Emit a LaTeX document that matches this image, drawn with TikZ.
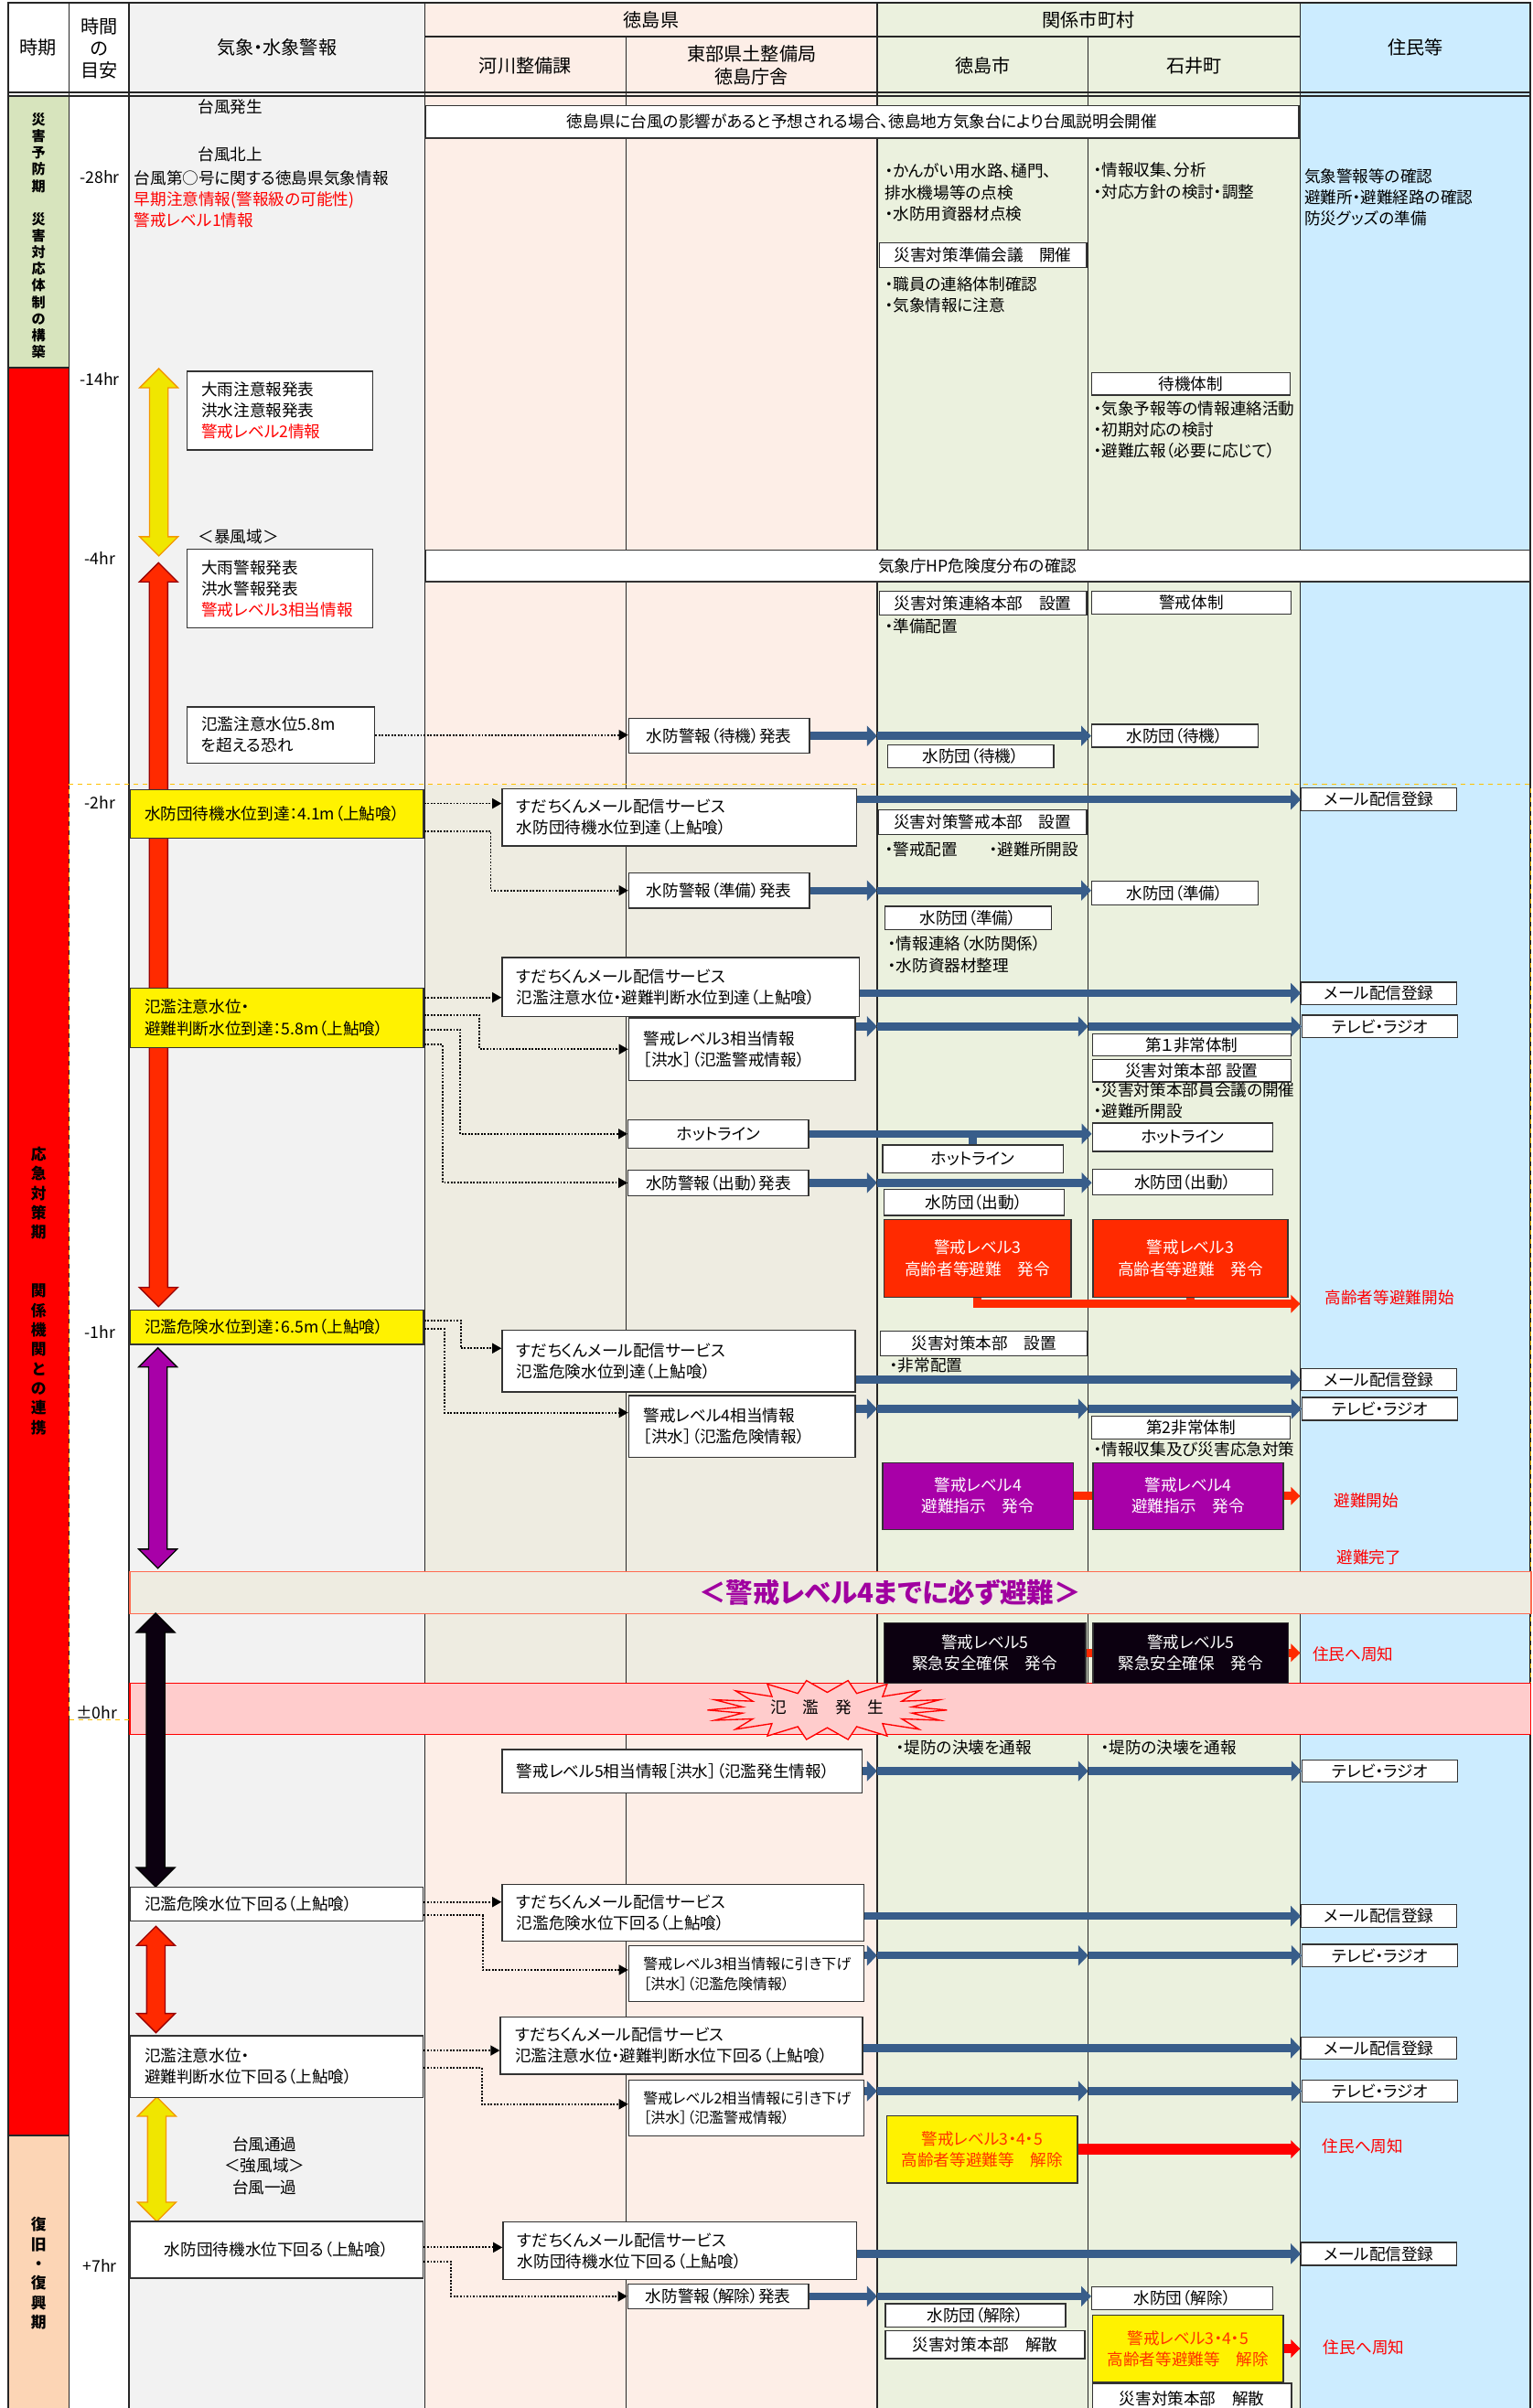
\documentclass[tikz,border=0pt]{standalone}
\usepackage{fontspec}
\setmainfont{Noto Sans CJK JP}[RawFeature={+palt}]
\usetikzlibrary{positioning,arrows.meta}
\setlength{\parindent}{0pt}

\definecolor{grayc}{HTML}{F2F2F2}
\definecolor{pinkc}{HTML}{FDEEE7}
\definecolor{beigec}{HTML}{EEECE1}
\definecolor{greenc}{HTML}{EBF1DE}
\definecolor{bluec}{HTML}{CCECFF}
\definecolor{prevc}{HTML}{D7E4BD}
\definecolor{recc}{HTML}{FCD5B5}
\definecolor{arrowblue}{HTML}{385D8A}
\definecolor{lvred}{HTML}{FF2A00}
\definecolor{lvpur}{HTML}{A800A8}
\definecolor{lvblk}{HTML}{0C0010}
\definecolor{arryel}{HTML}{F0E600}
\definecolor{arrorg}{HTML}{F39800}
\definecolor{floodpink}{HTML}{FFCCCC}
\definecolor{bandedge}{HTML}{FF6A50}
\definecolor{dashorg}{HTML}{FFC000}
\definecolor{kaijored}{HTML}{FF3300}
\definecolor{bandpur}{HTML}{A000A0}

\newcommand{\dblarrow}[5]{%
  \filldraw[fill=#4,draw=#5,line width=.8pt] (#1,#2) -- (#1+12.5,#2+12.5) -- (#1+6,#2+12.5) -- (#1+6,#3-12.5) -- (#1+12.5,#3-12.5) -- (#1,#3) -- (#1-12.5,#3-12.5) -- (#1-6,#3-12.5) -- (#1-6,#2+12.5) -- (#1-12.5,#2+12.5) -- cycle;}

\begin{document}
\begin{tikzpicture}[x=1pt,y=-1pt,
  every node/.style={font=\fontsize{10.5}{13.8}\selectfont},
  grid/.style={line width=.9pt, draw=black!85},
  wbox/.style 2 args={draw=black!80, fill=white, line width=.8pt, inner sep=0pt, anchor=north west, align=center, minimum width=#1pt, minimum height=#2pt},
  lbox/.style 2 args={wbox={10}{#2}, align=left, inner xsep=9.5pt, text width=#1},
  ltext/.style={inner sep=0pt, anchor=west, align=left},
  hdr/.style={font=\fontsize{12}{14.5}\selectfont, align=center},
  period/.style={font=\bfseries\fontsize{10}{12.7}\selectfont, align=center, inner sep=0pt},
  flow/.style={line width=5pt, draw=arrowblue, -{Triangle[length=6.5pt,width=13pt]}},
  dots/.style={densely dotted, line width=1.1pt, -{Triangle[length=6pt,width=6.5pt]}},
  redflow/.style={line width=5.5pt, draw=lvred, -{Triangle[length=6pt,width=11.5pt]}},
  redbar/.style={line width=5.5pt, draw=lvred},
  small/.style={font=\fontsize{9.5}{13}\selectfont}]

\useasboundingbox (0,0) rectangle (997.5,1568);

% backgrounds
\fill[grayc] (84,2) rectangle (276.5,1568);
\fill[pinkc] (276.5,2) rectangle (571,510.8);
\fill[beigec] (276.5,510.8) rectangle (571,1096);
\fill[pinkc] (276.5,1096) rectangle (571,1568);
\fill[greenc] (571,2) rectangle (846.5,1568);
\fill[bluec] (846.5,2) rectangle (996.5,1568);
\fill[prevc] (5.5,62.5) rectangle (45,239.3);
\fill[red] (5.5,239.3) rectangle (45,1390.5);
\fill[recc] (5.5,1390.5) rectangle (45,1568);

\coordinate (c5) at (571,0);
\coordinate (c6) at (708.5,0);
\coordinate (c7) at (846.5,0);

% table lines
\foreach \x in {45,84,276.5,571,846.5} \draw[grid] (\x,2) -- (\x,1568);
\foreach \x in {407.5,708.5} \draw[grid] (\x,23.8) -- (\x,1568);
\draw[grid] (276.5,23.8) -- (846.5,23.8);
\draw[grid] (5.5,60.1) -- (996.5,60.1);
\draw[grid] (5.5,62.5) -- (996.5,62.5);
\draw[grid] (5.5,239.3) -- (45,239.3);
\draw[grid] (5.5,1390.5) -- (45,1390.5);
\draw[line width=1.2pt, black!85] (5.5,2) rectangle (996.5,1572);
\draw[dashorg, dashed, line width=.8pt] (84,1120) -- (45,1120) -- (45,510.8) -- (996.5,510.8) -- (996.5,1120);

% header
\node[hdr] (hJiki) at (25,31) {時期};
\node[hdr] (hJikan) at (64.5,31.5) {時間\\の\\目安};
\node[hdr] (hKisho) at (180.3,31) {気象・水象警報};
\node[hdr] (hKen) at (424,13) {徳島県};
\node[hdr] (hKasen) at (342,43) {河川整備課};
\node[hdr] (hTobu) at (489.4,42.5) {東部県土整備局\\徳島庁舎};
\node[hdr] (hKankei) at (708.7,13) {関係市町村};
\node[hdr] (hToku) at (640,43) {徳島市};
\node[hdr] (hIshii) at (777.5,43) {石井町};
\node[hdr] (hJumin) at (921.5,31) {住民等};

% periods
\node[period, font=\bfseries\fontsize{9}{10.8}\selectfont] (pPrev) at (25.1,153.5) {災\\害\\予\\防\\期\\[10.8pt]災\\害\\対\\応\\体\\制\\の\\構\\築};
\node[period] (pEmg) at (25.1,840.6) {応\\急\\対\\策\\期\\[25.4pt]関\\係\\機\\関\\と\\の\\連\\携};
\node[period] (pRec) at (25.1,1480.4) {復\\旧\\・\\復\\興\\期};

% time marks
\node (t28) at (65,115.3) {-28hr};
\node (t14) at (65,246.8) {-14hr};
\node (t4) at (65,363.4) {-4hr};
\node (t2) at (65,522.8) {-2hr};
\node (t1) at (65,867.5) {-1hr};
\node (t0) at (63,1114.9) {±0hr};
\node (t7) at (65,1475.2) {+7hr};

% bands
\node[wbox={568.7}{21.3}] (setsumei) at (276.5,68.2) {徳島県に台風の影響があると予想される場合、徳島地方気象台により台風説明会開催};
\node[wbox={719}{20.5}] (hp) at (276.5,357.9) {気象庁HP危険度分布の確認};
\node[draw=bandedge, fill=beigec, line width=.8pt, minimum width=912.3pt, minimum height=27.6pt, anchor=north west, inner sep=0pt] (l4band) at (84.2,1022.9) {};
\node[font=\bfseries\fontsize{17.5}{20}\selectfont, text=bandpur] (l4txt) at (579.4,1036.7) {＜警戒レベル4までに必ず避難＞};
\node[draw=red, fill=floodpink, line width=.8pt, minimum width=911.8pt, minimum height=33.3pt, anchor=north west, inner sep=0pt] (flood) at (84.2,1095.6) {};
\filldraw[fill=floodpink, draw=red, line width=.8pt] plot[domain=0:360, samples=37] ({538.6+(78-22*mod(round(\x/10),2))*cos(\x)}, {1113.5+(19.5-8*mod(round(\x/10),2))*sin(\x)}) -- cycle;
\node (burst) at (538.6,1112) {氾　濫　発　生};

% block arrows
\dblarrow{103.4}{240}{362}{arryel}{arrorg}
\dblarrow{103.2}{366.4}{850.8}{lvred}{red!60!black}
\dblarrow{102.8}{877.6}{1021.2}{lvpur}{black}
\dblarrow{101.3}{1050.5}{1228.6}{lvblk}{black}
\dblarrow{101.5}{1254.3}{1323.6}{lvred}{red!60!black}
\dblarrow{102.1}{1365.5}{1446.5}{arryel}{arrorg}

% 気象・水象警報
\node (kHassei) at (150,69.7) {台風発生};
\node (kHokujo) at (150,100.7) {台風北上};
\node[ltext] (kInfo) at (87.2,129.5) {台風第○号に関する徳島県気象情報\\\textcolor{red}{早期注意情報(警報級の可能性)}\\\textcolor{red}{警戒レベル1情報}};
\node[lbox={101.9pt}{51.2}] (chuiho) at (121.2,241.3) {大雨注意報発表\\洪水注意報発表\\\textcolor{red}{警戒レベル2情報}};
\node (bofu) at (155.3,349.6) {＜暴風域＞};
\node[lbox={101.9pt}{51.4}] (keiho) at (121.2,357.1) {大雨警報発表\\洪水警報発表\\\textcolor{red}{警戒レベル3相当情報}};
\node[lbox={103.3pt}{36.6}] (koeru) at (121.2,459.9) {氾濫注意水位5.8m\\を超える恐れ};
\node[lbox={172.2pt}{31.6}, fill=yellow] (wy1) at (84.2,513.8) {水防団待機水位到達：4.1m（上鮎喰）};
\node[lbox={172.2pt}{38.6}, fill=yellow] (wy2) at (84.2,643.1) {氾濫注意水位・\\避難判断水位到達：5.8m（上鮎喰）};
\node[lbox={172.2pt}{22.6}, fill=yellow] (wy3) at (84.2,852.5) {氾濫危険水位到達：6.5m（上鮎喰）};
\node[lbox={172pt}{22}] (wd1) at (84.2,1228.6) {氾濫危険水位下回る（上鮎喰）};
\node[lbox={172pt}{40}] (wd2) at (84.2,1325.3) {氾濫注意水位・\\避難判断水位下回る（上鮎喰）};
\node[align=center] (tsuka) at (172.3,1410.3) {台風通過\\＜強風域＞\\台風一過};
\node[wbox={191}{37}] (wd3) at (84.2,1446) {水防団待機水位下回る（上鮎喰）};

% 河川整備課・東部県土整備局
\node[wbox={117.6}{22.8}] (wk1) at (409,467.4) {水防警報（待機）発表};
\node[lbox={211.8pt}{37.1}] (su1) at (326.5,513.3) {すだちくんメール配信サービス\\水防団待機水位到達（上鮎喰）};
\node[wbox={117.6}{23.1}] (wk2) at (409,567.9) {水防警報（準備）発表};
\node[lbox={213.5pt}{38.6}] (su2) at (326.5,623) {すだちくんメール配信サービス\\氾濫注意水位・避難判断水位到達（上鮎喰）};
\node[lbox={128.4pt}{40.8}] (lv3) at (409,662.4) {警戒レベル3相当情報\\［洪水］（氾濫警戒情報）};
\node[wbox={117.4}{18.3}] (hot1) at (408.6,728.8) {ホットライン};
\node[wbox={117.4}{16.8}] (wk3) at (408.6,761.4) {水防警報（出動）発表};
\node[lbox={210.9pt}{40.1}] (su3) at (326.5,865.8) {すだちくんメール配信サービス\\氾濫危険水位到達（上鮎喰）};
\node[lbox={128.4pt}{40.1}] (lv4) at (409,908.4) {警戒レベル4相当情報\\［洪水］（氾濫危険情報）};
\node[lbox={215.5pt}{28.1}] (lv5) at (326.5,1138.9) {警戒レベル5相当情報［洪水］（氾濫発生情報）};
\node[lbox={216.7pt}{36.8}] (su4) at (326.5,1226.8) {すだちくんメール配信サービス\\氾濫危険水位下回る（上鮎喰）};
\node[lbox={134.2pt}{36.4}, small] (lv3d) at (409,1266.6) {警戒レベル3相当情報に引き下げ\\［洪水］（氾濫危険情報）};
\node[lbox={216.7pt}{37.3}] (su5) at (325.4,1313) {すだちくんメール配信サービス\\氾濫注意水位・避難判断水位下回る（上鮎喰）};
\node[lbox={134.2pt}{36.5}, small] (lv2d) at (409,1354) {警戒レベル2相当情報に引き下げ\\［洪水］（氾濫警戒情報）};
\node[lbox={211.2pt}{37.5}] (su6) at (327.1,1446.5) {すだちくんメール配信サービス\\水防団待機水位下回る（上鮎喰）};
\node[wbox={117.6}{16.3}] (wk4) at (408.4,1486.7) {水防警報（解除）発表};

% 徳島市
\node[ltext] (tPrep) at (576,125.3) {・かんがい用水路、樋門、\\排水機場等の点検\\・水防用資器材点検};
\node[wbox={134.9}{15.8}] (tJunbi) at (572.1,157.9) {災害対策準備会議　開催};
\node[ltext] (tStaff) at (576,191.9) {・職員の連絡体制確認\\・気象情報に注意};
\node[wbox={135}{15.3}] (tRenraku) at (572,384.7) {災害対策連絡本部　設置};
\node[ltext] (tJh) at (576,408) {・準備配置};
\node[wbox={108}{15}] (tTaiki) at (577.7,484.5) {水防団（待機）};
\node[wbox={135.3}{15.9}] (tKeikai) at (571.7,527) {災害対策警戒本部　設置};
\node[ltext] (tKh) at (576,553.4) {・警戒配置　　・避難所開設};
\node[wbox={108.6}{15.1}] (tJun) at (575.6,589.7) {水防団（準備）};
\node[ltext] (tJr) at (578,621.5) {・情報連絡（水防関係）\\・水防資器材整理};
\node[wbox={117.4}{18.3}] (tHot) at (574.3,745.1) {ホットライン};
\node[wbox={117.3}{17.2}] (tShu) at (575,773.9) {水防団（出動）};
\node[wbox={122}{50.6}, fill=lvred, text=white] (tL3) at (575,793.6) {警戒レベル3\\高齢者等避難　発令};
\node[wbox={134.8}{16.3}] (tHonbu) at (572.8,866.3) {災害対策本部　設置};
\node[ltext] (tHijo) at (579.2,889.3) {・非常配置};
\node[wbox={124.2}{43.4}, fill=lvpur, text=white] (tL4) at (574.3,952) {警戒レベル4\\避難指示　発令};
\node[wbox={131.5}{39.4}, fill=lvblk, text=white] (tL5) at (575,1056.2) {警戒レベル5\\緊急安全確保　発令};
\node[ltext] (tTeibo) at (583.4,1138.2) {・堤防の決壊を通報};
\node[wbox={124.2}{43.7}, fill=yellow, text=kaijored] (tKj) at (577,1377.3) {警戒レベル3・4・5\\高齢者等避難等　解除};
\node[wbox={117.4}{15}] (tKaijo) at (576,1499.7) {水防団（解除）};
\node[wbox={129.9}{18.3}] (tKaisan) at (576,1517.2) {災害対策本部　解散};

% 石井町
\node[ltext] (iInfo) at (711.9,117.8) {・情報収集、分析\\・対応方針の検討・調整};
\node[wbox={129.1}{14.6}] (iTaikiT) at (710.4,242.3) {待機体制};
\node[ltext] (iAct) at (711.9,280) {・気象予報等の情報連絡活動\\・初期対応の検討\\・避難広報（必要に応じて）};
\node[wbox={129.7}{14.6}] (iKeikai) at (710.4,384.7) {警戒体制};
\node[wbox={108.2}{15}] (iTaiki) at (710.4,471.2) {水防団（待機）};
\node[wbox={108.2}{15.6}] (iJun) at (710.4,573.4) {水防団（準備）};
\node[wbox={129.3}{14.1}] (iHijo1) at (710.8,672.9) {第１非常体制};
\node[wbox={129.3}{14.6}, below=1.7pt of iHijo1.south west, anchor=north west] (iHonbu) {災害対策本部 設置};
\node[ltext] (iKaigi) at (711.9,716.5) {・災害対策本部員会議の開催\\・避難所開設};
\node[wbox={117.6}{18.5}] (iHot) at (710.8,730.8) {ホットライン};
\node[wbox={117.6}{16.8}] (iShu) at (710.8,760.9) {水防団（出動）};
\node[wbox={126.8}{50.6}, fill=lvred, text=white] (iL3) at (711.2,793.6) {警戒レベル3\\高齢者等避難　発令};
\node[wbox={129.1}{14.6}] (iHijo2) at (710.4,921.9) {第2非常体制};
\node[ltext] (iOukyu) at (711.9,943.9) {・情報収集及び災害応急対策};
\node[wbox={124}{43.4}, fill=lvpur, text=white] (iL4) at (711.2,952) {警戒レベル4\\避難指示　発令};
\node[wbox={127.2}{39.4}, fill=lvblk, text=white] (iL5) at (711.2,1056.2) {警戒レベル5\\緊急安全確保　発令};
\node[ltext] (iTeibo) at (716.7,1138.2) {・堤防の決壊を通報};
\node[wbox={117.9}{15}] (iKaijo) at (710.4,1488.5) {水防団（解除）};
\node[wbox={124.4}{43.3}, fill=yellow, text=kaijored] (iKj) at (710.8,1507.2) {警戒レベル3・4・5\\高齢者等避難等　解除};
\node[wbox={129.7}{20}] (iKaisan) at (710.8,1551.4) {災害対策本部　解散};

% 住民等
\node[ltext] (rPrep) at (849,128.4) {気象警報等の確認\\避難所・避難経路の確認\\防災グッズの準備};
\node[wbox={101.1}{14.8}] (rM1) at (846.9,512.8) {メール配信登録};
\node[wbox={101.1}{14.5}] (rM2) at (846.9,639.1) {メール配信登録};
\node[wbox={101.3}{14.8}] (rTv1) at (847.3,660.6) {テレビ・ラジオ};
\node[text=red] (rKorei) at (904.7,845) {高齢者等避難開始};
\node[wbox={101.1}{14.3}] (rM3) at (846.9,890.8) {メール配信登録};
\node[wbox={101.3}{14.8}] (rTv2) at (847.3,909.6) {テレビ・ラジオ};
\node[text=red] (rHinan) at (889.5,977.1) {避難開始};
\node[text=red] (rKanryo) at (891.4,1014.2) {避難完了};
\node[text=red] (rShuchi1) at (881,1077.3) {住民へ周知};
\node[wbox={101.3}{14.3}] (rTv3) at (847.3,1145.7) {テレビ・ラジオ};
\node[wbox={101.1}{15}] (rM4) at (846.9,1239.8) {メール配信登録};
\node[wbox={101.3}{14.7}] (rTv4) at (847.3,1265.6) {テレビ・ラジオ};
\node[wbox={101.1}{14.3}] (rM5) at (846.9,1326) {メール配信登録};
\node[wbox={101.3}{14.5}] (rTv5) at (847.3,1354) {テレビ・ラジオ};
\node[text=red] (rShuchi2) at (887.3,1397.8) {住民へ周知};
\node[wbox={101.1}{15}] (rM6) at (846.9,1459.7) {メール配信登録};
\node[text=red] (rShuchi3) at (888,1528.5) {住民へ周知};

% dotted links
\draw[dots] (koeru.east) -- (koeru.east -| wk1.west);
\draw[dots] ([yshift=6.8pt]wy1.east) -- ([yshift=6.8pt]wy1.east -| su1.west);
\draw[dots] ([yshift=-11.3pt]wy1.east) -| ([xshift=-89.5pt]wk2.west) -- (wk2.west);
\draw[dots] ([yshift=13.3pt]wy2.east) -- ([yshift=13.3pt]wy2.east -| su2.west);
\draw[dots] ([yshift=2pt]wy2.east) -| ([xshift=-96.8pt]lv3.west) -- (lv3.west);
\draw[dots] ([yshift=-7.5pt]wy2.east) -| ([xshift=-109pt]hot1.west) -- (hot1.west);
\draw[dots] ([yshift=-17.5pt]wy2.east) -| ([xshift=-120.4pt]wk3.west) -- (wk3.west);
\draw[dots] ([yshift=4.5pt]wy3.east) -| ([xshift=-26.6pt,yshift=8.3pt]su3.west) -- ([yshift=8.3pt]su3.west);
\draw[dots] ([yshift=-1.2pt]wy3.east) -| ([xshift=-119.7pt,yshift=9pt]lv4.west) -- ([yshift=9pt]lv4.west);
\draw[dots] ([yshift=1.5pt]wd1.east) -- ([yshift=1.5pt]wd1.east -| su4.west);
\draw[dots] ([yshift=-7.2pt]wd1.east) -| ([xshift=-94.8pt,yshift=2.5pt]lv3d.west) -- ([yshift=2.5pt]lv3d.west);
\draw[dots] ([yshift=10.5pt]wd2.east) -- ([yshift=10.5pt]wd2.east -| su5.west);
\draw[dots] ([yshift=-.7pt]wd2.east) -| ([xshift=-95.3pt,yshift=2.5pt]lv2d.west) -- ([yshift=2.5pt]lv2d.west);
\draw[dots] ([yshift=1.5pt]wd3.east) -- ([yshift=1.5pt]wd3.east -| su6.west);
\draw[dots] ([yshift=-7.7pt]wd3.east) -| ([xshift=-114.9pt]wk4.west) -- (wk4.west);

% blue flows
\draw[flow] (wk1.east) -- (wk1.east -| c5);
\draw[flow] (wk1.east -| c5) -- (wk1.east -| iTaiki.west);
\draw[flow] (su1.east |- rM1.west) -- (rM1.west);
\draw[flow] (wk2.east) -- (wk2.east -| c5);
\draw[flow] (wk2.east -| c5) -- (wk2.east -| iJun.west);
\draw[flow] (su2.east |- rM2.west) -- (rM2.west);
\draw[flow] (lv3.east |- rTv1.west) -- (c5 |- rTv1.west);
\draw[flow] (c5 |- rTv1.west) -- (c6 |- rTv1.west);
\draw[flow] (c6 |- rTv1.west) -- (rTv1.west);
\draw[flow] (hot1.east) -- (hot1.east -| iHot.west);
\draw[line width=5pt, arrowblue] (tHot.north |- hot1.east) -- (tHot.north);
\draw[flow] (wk3.east) -- (wk3.east -| c5);
\draw[flow] (wk3.east -| c5) -- (wk3.east -| iShu.west);
\draw[flow] (su3.east |- rM3.west) -- (rM3.west);
\draw[flow] (lv4.east |- rTv2.west) -- (c5 |- rTv2.west);
\draw[flow] (c5 |- rTv2.west) -- (c6 |- rTv2.west);
\draw[flow] (c6 |- rTv2.west) -- (rTv2.west);
\draw[flow] (lv5.east |- rTv3.west) -- (c5 |- rTv3.west);
\draw[flow] (c5 |- rTv3.west) -- (c6 |- rTv3.west);
\draw[flow] (c6 |- rTv3.west) -- (rTv3.west);
\draw[flow] (su4.east |- rM4.west) -- (rM4.west);
\draw[flow] (lv3d.east |- rTv4.west) -- (c5 |- rTv4.west);
\draw[flow] (c5 |- rTv4.west) -- (c6 |- rTv4.west);
\draw[flow] (c6 |- rTv4.west) -- (rTv4.west);
\draw[flow] (su5.east |- rM5.west) -- (rM5.west);
\draw[flow] (lv2d.east |- rTv5.west) -- (c5 |- rTv5.west);
\draw[flow] (c5 |- rTv5.west) -- (c6 |- rTv5.west);
\draw[flow] (c6 |- rTv5.west) -- (rTv5.west);
\draw[flow] (su6.east |- rM6.west) -- (rM6.west);
\draw[flow] (wk4.east) -- (wk4.east -| c5);
\draw[flow] (wk4.east -| c5) -- (wk4.east -| iKaijo.west);

% red flows
\coordinate (kEnd) at (846.5,849);
\draw[redflow] (tL3.south) |- (kEnd);
\draw[redbar] (iL3.south) -- (iL3.south |- kEnd);
\draw[redbar] (tL4.east) -- (iL4.west);
\draw[redflow] (iL4.east) -- (iL4.east -| c7);
\draw[redbar] (tL5.east) -- (iL5.west);
\draw[redflow] (iL5.east) -- (iL5.east -| c7);
\draw[redflow, draw=red, line width=7pt] (tKj.east) -- (tKj.east -| c7);
\draw[redflow, draw=red] (iKj.east) -- (iKj.east -| c7);
\end{tikzpicture}
\end{document}
